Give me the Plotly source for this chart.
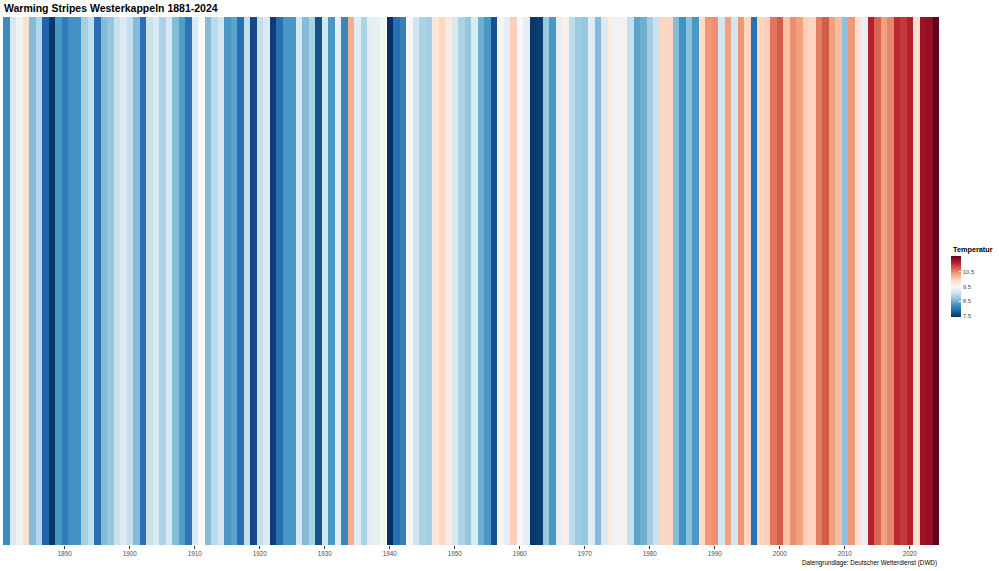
import plotly.graph_objects as go

years = list(range(1881, 2025))

temps = [
    # 1881-1890
    8.2, 9.15, 9.4, 9.85, 8.6, 8.9, 7.85, 7.5, 8.3, 8.05,
    # 1891-1900
    8.25, 8.25, 8.8, 9.0, 7.95, 8.6, 8.7, 9.05, 9.2, 9.0,
    # 1901-1910
    8.6, 7.95, 9.05, 9.2, 8.85, 9.15, 8.6, 8.35, 8.0, 9.2,
    # 1911-1920
    9.5, 8.6, 8.95, 9.1, 8.3, 8.4, 7.95, 9.0, 7.65, 9.0,
    # 1921-1930
    9.2, 7.55, 7.95, 8.3, 8.3, 9.15, 8.6, 8.85, 7.7, 9.1,
    # 1931-1940
    8.3, 9.3, 8.15, 10.25, 9.25, 8.85, 9.3, 9.35, 9.45, 7.45,
    # 1941-1950
    7.95, 8.1, 9.5, 9.1, 8.85, 8.8, 9.75, 9.95, 9.7, 9.15,
    # 1951-1960
    8.85, 8.7, 9.2, 8.5, 8.3, 7.7, 9.45, 9.3, 10.0, 9.5,
    # 1961-1970
    9.3, 7.5, 7.55, 8.75, 8.3, 9.3, 9.6, 8.95, 8.75, 8.7,
    # 1971-1980
    9.25, 8.6, 9.2, 9.65, 9.4, 9.6, 9.0, 8.4, 8.5, 8.8,
    # 1981-1990
    9.05, 9.95, 9.95, 8.6, 8.25, 8.65, 8.3, 9.9, 10.4, 10.45,
    # 1991-2000
    9.1, 10.35, 9.1, 10.4, 9.95, 7.95, 9.95, 10.0, 10.6, 10.75,
    # 2001-2010
    10.1, 10.45, 10.35, 10.0, 9.95, 10.55, 10.75, 10.35, 10.15, 8.65,
    # 2011-2020
    10.4, 9.85, 9.35, 11.1, 10.7, 10.35, 10.5, 11.05, 10.95, 11.1,
    # 2021-2024
    9.85, 11.25, 11.3, 11.55,
]

tick_years = [1890, 1900, 1910, 1920, 1930, 1940, 1950, 1960, 1970, 1980, 1990, 2000, 2010, 2020]
legend_ticks = [7.5, 8.5, 9.5, 10.5]

rdbu_rev = ["#053061", "#2166AC", "#4393C3", "#92C5DE", "#D1E5F0", "#F7F7F7",
            "#FDDBC7", "#F4A582", "#D6604D", "#B2182B", "#67001F"]
colorscale = [[i / (len(rdbu_rev) - 1), c] for i, c in enumerate(rdbu_rev)]

FONT = "Liberation Sans, Arial, sans-serif"
W, H = 999, 571
ML, MR, MT, MB = 3, 60, 17, 26
plot_w = W - ML - MR
plot_h = H - MT - MB

fig = go.Figure(go.Heatmap(
    x=years,
    y=[0],
    z=[temps],
    zmin=min(temps),
    zmax=max(temps),
    colorscale=colorscale,
    xgap=0,
    ygap=0,
    colorbar=dict(
        tickvals=legend_ticks,
        ticktext=[f"{v:.1f}" for v in legend_ticks],
        tickfont=dict(size=6, color="#4d4d4d", family=FONT),
        ticks="inside", tickcolor="white", ticklen=2, tickwidth=1,
        thickness=10,
        lenmode="pixels", len=61,
        x=(951 - ML) / plot_w, xanchor="left", xpad=0,
        y=(H - MB - 286.5) / plot_h, yanchor="middle", ypad=0,
        outlinewidth=0,
    ),
    hoverinfo="x+z",
))

fig.update_layout(
    width=W, height=H,
    margin=dict(l=ML, r=MR, t=MT, b=MB),
    paper_bgcolor="white",
    plot_bgcolor="white",
    font=dict(family=FONT),
    title=dict(
        text="<b>Warming Stripes Westerkappeln 1881-2024</b>",
        xref="container", x=4 / W, xanchor="left",
        yref="container", y=1 - 8.5 / H, yanchor="middle",
        font=dict(size=10.5, color="#000000", family=FONT),
    ),
    xaxis=dict(
        range=[1880.5, 2024.5],
        tickvals=tick_years,
        ticktext=[str(y) for y in tick_years],
        tickfont=dict(size=6.3, color="#4d4d4d", family=FONT),
        ticks="outside", ticklen=2.5, tickcolor="#333333", tickwidth=0.8,
        showgrid=False, zeroline=False, showline=False,
    ),
    yaxis=dict(visible=False, showgrid=False, zeroline=False),
    annotations=[
        dict(
            text="Datengrundlage: Deutscher Wetterdienst (DWD)",
            xref="paper", x=1.0, xanchor="right",
            yref="paper", y=-(563.3 - (H - MB)) / plot_h, yanchor="middle",
            showarrow=False,
            font=dict(size=6.3, color="#000000", family=FONT),
        ),
        dict(
            text="<b>Temperatur</b>",
            xref="paper", x=(951 - ML) / plot_w, xanchor="left",
            yref="paper", y=(H - MB - 249) / plot_h, yanchor="middle",
            showarrow=False,
            font=dict(size=7.3, color="#000000", family=FONT),
        ),
    ],
)

fig.write_html(
    "out.html",
    config={"displayModeBar": False},
    post_script="document.body.style.margin='0';document.body.style.overflow='hidden';",
)
